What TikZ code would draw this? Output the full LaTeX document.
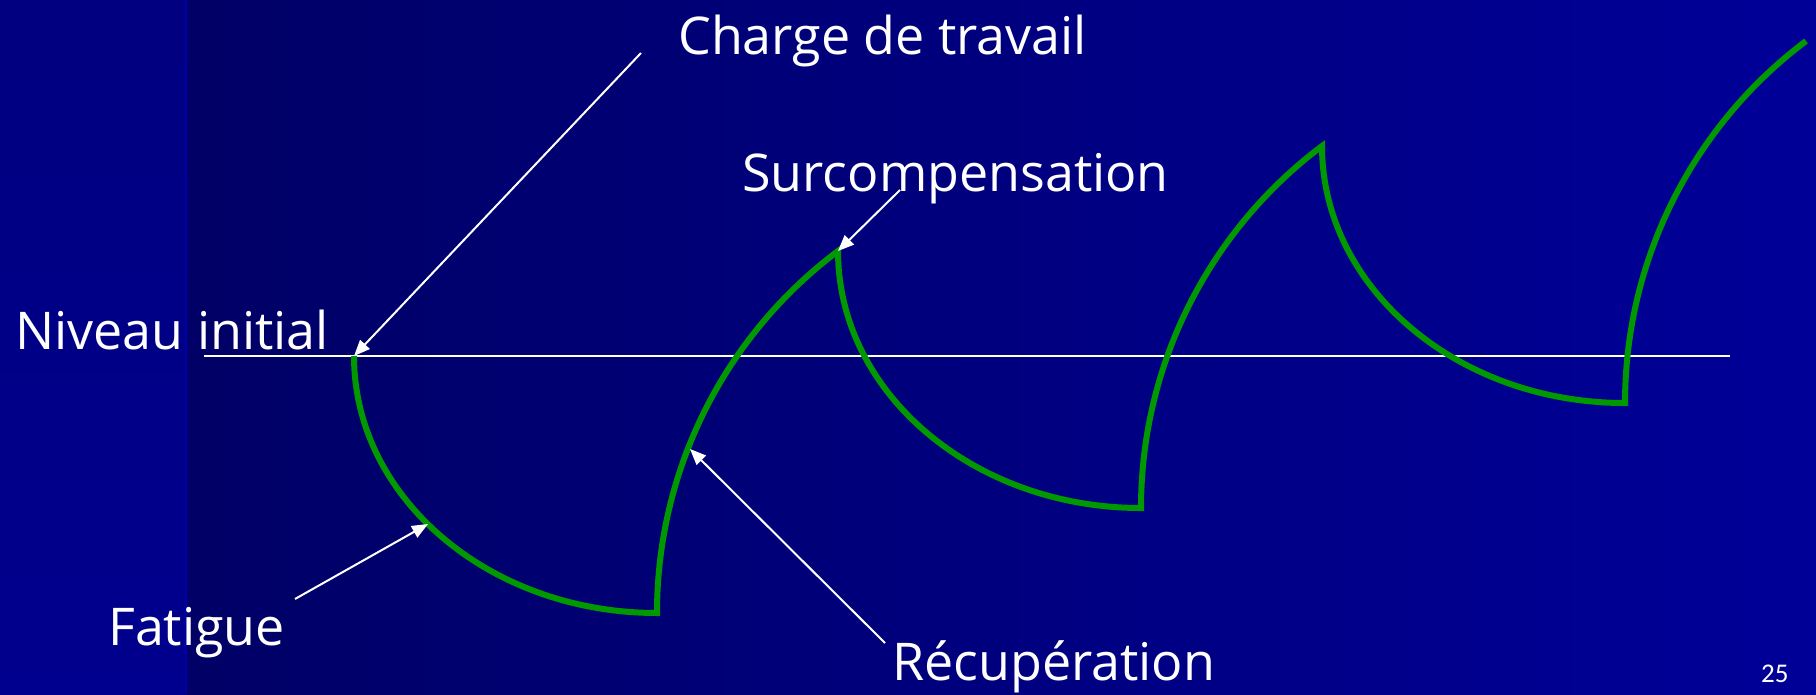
\documentclass[tikz,border=0pt]{standalone}
\usepackage{fontspec}
\setmainfont{Open Sans}
\newfontfamily\numfont{Carlito}
\usetikzlibrary{arrows.meta}
\definecolor{curvegreen}{RGB}{0,153,0}
\definecolor{striptop}{RGB}{0,0,128}
\definecolor{stripbot}{RGB}{0,0,142}
\definecolor{bgleft}{RGB}{0,0,102}
\definecolor{bgright}{RGB}{0,0,152}
\definecolor{stripedge}{RGB}{0,0,170}
\begin{document}
\begin{tikzpicture}[x=1pt,y=1pt,
  lbl/.style={text=white, inner sep=0pt, anchor=base west, font=\fontsize{52}{60}\selectfont},
  pointer/.style={draw=white, line width=2pt, -{Triangle[length=16pt,width=13pt]}},
  curve/.style={draw=curvegreen, line width=6pt, line join=miter},
  levelline/.style={draw=white, line width=2pt},
]
\useasboundingbox (0,0) rectangle (1816,694);
% background
\shade[top color=striptop, bottom color=stripbot] (0,0) rectangle (186,694);
\shade[left color=bgleft, right color=bgright] (186,0) rectangle (1816,694);
\draw[stripedge, line width=2pt] (186,0) -- (186,694);

% coordinates
\coordinate (lineL) at (204,338);
\coordinate (lineR) at (1730,338);
\coordinate (p0) at (354,338);
\coordinate (peak1) at (838,443);
\coordinate (fatpt) at (428,170);
\coordinate (recpt) at (690,245);
\coordinate (chargeS) at (641,641);
\coordinate (surcS) at (900,504);
\coordinate (fatS) at (295,95);
\coordinate (recS) at (885,51);

% reference level
\draw[levelline] (lineL) -- (lineR);

% training curve
\draw[curve] (p0)
  arc[start angle=180, end angle=270, x radius=303, y radius=257]
  arc[start angle=180, end angle=126.87, radius=452.5]
  arc[start angle=180, end angle=270, x radius=303, y radius=257]
  arc[start angle=180, end angle=126.87, radius=452.5]
  arc[start angle=180, end angle=270, x radius=303, y radius=257]
  arc[start angle=180, end angle=126.87, radius=452.5];

% labels
\node[lbl] (charge) at (678,639) {Charge de travail};
\node[lbl] (surcomp) at (742,502) {Surcompensation};
\node[lbl] (niveau) at (15,344) {Niveau initial};
\node[lbl] (fatigue) at (108,49) {Fatigue};
\node[lbl] (recup) at (892,14) {Récupération};
\node[text=white, inner sep=0pt, anchor=base west, font=\numfont\fontsize{27}{30}\selectfont] (pagenum) at (1761,12) {25};

% pointers
\draw[pointer] (chargeS) -- (p0);
\draw[pointer] (surcS) -- (peak1);
\draw[pointer] (fatS) -- (fatpt);
\draw[pointer] (recS) -- (recpt);
\end{tikzpicture}
\end{document}
